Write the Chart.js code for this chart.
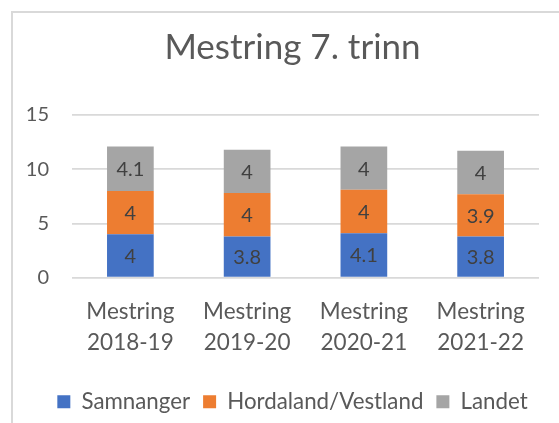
<!DOCTYPE html>
<html>
<head>
<meta charset="utf-8">
<script src="https://cdn.jsdelivr.net/npm/chart.js@4.4.1/dist/chart.umd.min.js"></script>
<style>
    html, body { margin: 0; padding: 0; background: #fff; overflow: hidden; }
    #frame {
        position: absolute; left: 11px; top: 11px;
        width: 600px; height: 450px;
        border: 2px solid #d9d9d9;
    }
</style>
</head>
<body>
<div id="frame"><canvas id="chart" width="546" height="410"></canvas></div>
<script>
// --- Data ---
const categories = [
    ['Mestring', '2018-19'],
    ['Mestring', '2019-20'],
    ['Mestring', '2020-21'],
    ['Mestring', '2021-22']
];
const samnanger = [4, 3.8, 4.1, 3.8];
const hordaland = [4, 4, 4, 3.9];
const landet = [4.1, 4, 4, 4];
const yTicks = [0, 5, 10, 15];

const FONT = 'Lato, "Open Sans", sans-serif';
const TEXT = '#595959';

// draws the value in the middle of every bar segment
const segmentLabels = {
    id: 'segmentLabels',
    afterDatasetsDraw(chart) {
        const ctx = chart.ctx;
        ctx.save();
        ctx.font = '20px ' + FONT;
        ctx.fillStyle = '#404040';
        ctx.textAlign = 'center';
        ctx.textBaseline = 'middle';
        chart.data.datasets.forEach((ds, i) => {
            chart.getDatasetMeta(i).data.forEach((bar, j) => {
                ctx.fillText(String(ds.data[j]), bar.x, (bar.y + bar.base) / 2 + 1);
            });
        });
        ctx.restore();
    }
};

new Chart(document.getElementById('chart').getContext('2d'), {
    type: 'bar',
    data: {
        labels: categories,
        datasets: [
            { label: 'Samnanger', data: samnanger, backgroundColor: '#4472c4' },
            { label: 'Hordaland/Vestland', data: hordaland, backgroundColor: '#ed7d31' },
            { label: 'Landet', data: landet, backgroundColor: '#a5a5a5' }
        ]
    },
    options: {
        responsive: false,
        animation: false,
        categoryPercentage: 1,
        barPercentage: 0.4,
        layout: { padding: { left: 13, right: 0, top: 0, bottom: 0 } },
        plugins: {
            title: {
                display: true,
                text: 'Mestring 7. trinn',
                color: TEXT,
                font: { family: FONT, size: 35, weight: 'normal' },
                padding: { top: 14, bottom: 46 }
            },
            legend: {
                position: 'bottom',
                labels: {
                    color: TEXT,
                    font: { family: FONT, size: 22.3 },
                    boxWidth: 13,
                    boxHeight: 13,
                    padding: 13
                }
            },
            tooltip: { enabled: false }
        },
        scales: {
            x: {
                stacked: true,
                grid: { display: false, drawTicks: true },
                border: { display: false },
                ticks: {
                    color: TEXT,
                    font: { family: FONT, size: 22.5, lineHeight: 1.378 },
                    padding: 11,
                    maxRotation: 0
                },
                // blank title, only adds room between the labels and the legend
                title: { display: true, text: ' ', font: { size: 10, lineHeight: 0.8 }, padding: 0 }
            },
            y: {
                stacked: true,
                min: yTicks[0],
                max: yTicks[yTicks.length - 1],
                afterBuildTicks: scale => { scale.ticks = yTicks.map(v => ({ value: v })); },
                afterFit: scale => { scale.width = 46; },
                grid: { color: '#d9d9d9', lineWidth: 1.7, drawTicks: false },
                border: { display: false },
                ticks: {
                    color: TEXT,
                    font: { family: FONT, size: 20 },
                    padding: 23
                }
            },
            // empty right-hand axis, only keeps the plot off the right edge
            yRight: {
                position: 'right',
                afterFit: scale => { scale.width = 20; },
                grid: { display: false },
                border: { display: false },
                ticks: { display: false }
            }
        }
    },
    plugins: [segmentLabels]
});
</script>
</body>
</html>
